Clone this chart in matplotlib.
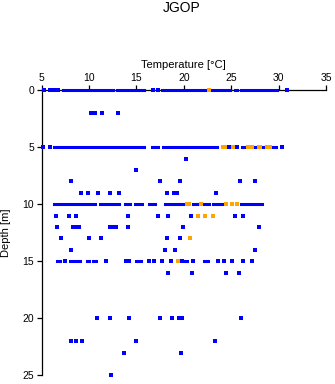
import matplotlib
matplotlib.use("Agg")
import matplotlib.pyplot as plt
import numpy as np

plt.rcParams['font.family'] = ['Liberation Sans', 'DejaVu Sans']

title = "JGOP"
xlabel = "Temperature [°C]"
ylabel = "Depth [m]"
xticks = [5, 10, 15, 20, 25, 30, 35]
yticks = [0, 5, 10, 15, 20, 25]

# Dense runs of blue observations: depth, start temp, end temp
run_depth = [0, 0, 0, 0, 0, 0,
             5, 5, 5, 5, 5, 5, 5,
             10, 10, 10, 10, 10, 10, 10, 10, 10, 10,
             15, 15, 15, 15, 15, 15, 15, 15]
run_start = [7.2, 12.95, 17.65, 22.95, 25.4, 26.05,
             6.25, 16.65, 17.85, 26.1, 27.4, 28.35, 29.3,
             6.35, 11.15, 13.75, 14.85, 16.35, 18.05, 20.95, 22.15, 23.05, 26.05,
             6.65, 7.95, 8.55, 9.75, 10.45, 14.95, 20.15, 22.15]
run_end = [12.55, 15.75, 22.3, 24.85, 25.65, 29.85,
           15.75, 17.25, 23.45, 26.4, 27.6, 28.5, 29.7,
           10.65, 13.15, 14.35, 15.55, 16.95, 19.95, 21.45, 22.65, 24.05, 28.25,
           6.9, 8.15, 9.05, 9.95, 10.75, 15.5, 20.35, 22.6]

# Individual blue observations
blue_depth = [0, 0, 0, 0, 0, 0, 0,
              2, 2, 2, 2,
              5, 5, 5, 5, 5,
              6, 7,
              8, 8, 8, 8, 8,
              9, 9, 9, 9, 9, 9, 9, 9, 9,
              11, 11, 11, 11, 11, 11, 11, 11, 11,
              12, 12, 12, 12, 12, 12, 12, 12, 12, 12,
              13, 13, 13, 13, 13,
              14, 14, 14, 14,
              15, 15, 15, 15, 15, 15, 15, 15, 15, 15, 15, 15, 15, 15, 15,
              16, 16, 16, 16,
              20, 20, 20, 20, 20, 20, 20, 20,
              22, 22, 22, 22, 22,
              23, 23,
              25]
blue_temp = [5.2, 5.9, 6.3, 6.7, 16.75, 17.25, 30.9,
             10.2, 10.6, 11.4, 13.0,
             5.14, 5.84, 24.75, 25.6, 30.4,
             20.25, 15.0,
             8.1, 17.5, 19.6, 25.9, 27.5,
             9.1, 9.9, 10.9, 12.2, 13.2, 18.25, 19.0, 19.3, 23.4,
             6.55, 7.9, 8.6, 14.1, 17.3, 18.35, 20.8, 25.4, 26.2,
             6.6, 8.35, 8.7, 12.25, 12.55, 12.85, 14.1, 19.9, 27.9, 8.9,
             7.0, 10.0, 11.3, 18.2, 19.6,
             8.1, 18.0, 19.1, 27.5,
             7.5, 11.8, 13.9, 14.25, 16.3, 16.8, 17.7, 18.6, 19.8, 21.0, 23.6, 24.2, 25.1, 26.2, 27.2,
             18.35, 20.9, 24.5, 25.8,
             10.8, 12.2, 14.2, 17.5, 18.7, 19.5, 19.8, 26.0,
             8.1, 8.65, 9.3, 14.9, 23.3,
             13.7, 19.7,
             12.3]

# Orange observations
orange_depth = [0,
                5, 5, 5, 5, 5, 5, 5, 5, 5,
                10, 10, 10, 10, 10, 10,
                11, 11, 11,
                13, 15]
orange_temp = [22.7,
               24.1, 24.35, 25.2, 26.75, 27.15, 27.9, 28.05, 28.8, 29.05,
               20.3, 20.5, 21.8, 24.45, 25.05, 25.6,
               21.5, 22.25, 23.1,
               20.7, 19.4]

W, H = 335, 384
fig = plt.figure(figsize=(W / 100, H / 100), dpi=100)
left = 41.7 / W
right = 326.0 / W
top = 1 - 90.3 / H
bottom = 1 - 375.3 / H
ax = fig.add_axes([left, bottom, right - left, top - bottom])

ms = 2.2
ax.hlines(run_depth, run_start, run_end, colors='#0000FF', linewidth=ms,
          capstyle='projecting', zorder=3, clip_on=False)
ax.scatter(blue_temp, blue_depth, marker='s', s=ms ** 2, color='#0000FF',
           linewidths=0, zorder=4, clip_on=False)
ax.scatter(orange_temp, orange_depth, marker='s', s=ms ** 2, color='#FFA500',
           linewidths=0, zorder=5, clip_on=False)

ax.set_xlim(5, 35)
ax.set_ylim(25, 0)
ax.xaxis.tick_top()
ax.xaxis.set_label_position('top')
ax.set_xticks(xticks)
ax.set_yticks(yticks)
ax.tick_params(axis='both', direction='out', length=3.6, width=0.9,
               labelsize=7.5, pad=2)
ax.spines['bottom'].set_visible(False)
ax.spines['right'].set_visible(False)
ax.spines['top'].set_linewidth(0.9)
ax.spines['left'].set_linewidth(0.9)
ax.spines['top'].set_zorder(1)
ax.spines['left'].set_zorder(1)
ax.set_xlabel(xlabel, fontsize=8, labelpad=3)
ax.set_ylabel(ylabel, fontsize=8)
ax.yaxis.set_label_coords((11.0 - 41.7) / (326.0 - 41.7), 0.5)
ax.patch.set_alpha(0)

fig.text(182 / W, 1 - 8.5 / H, title, ha='center', va='center', fontsize=10)

fig.savefig("out.png", dpi=100)
